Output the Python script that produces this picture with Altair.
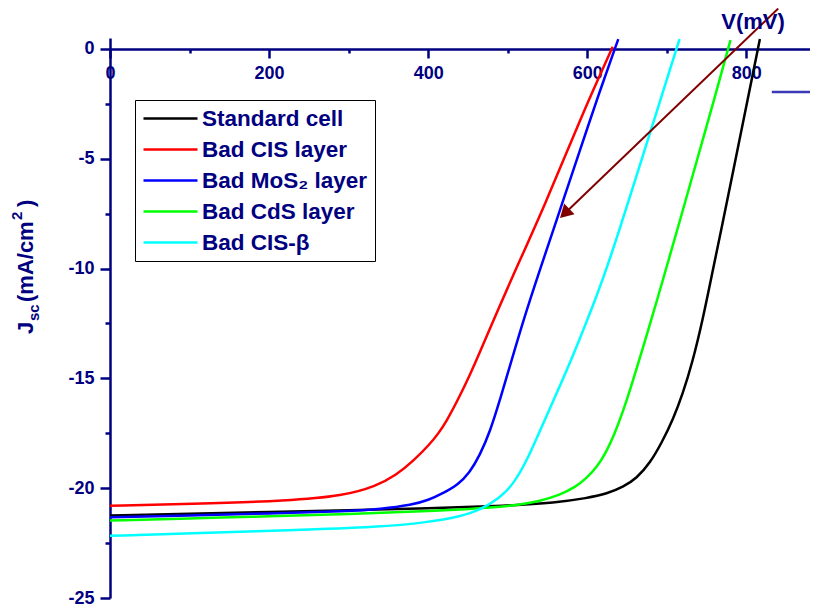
import altair as alt
import pandas as pd

NAVY = "#000080"
FONT = "Liberation Sans"

series_names = ["Standard cell", "Bad CIS layer", "Bad MoS₂ layer", "Bad CdS layer", "Bad CIS-β"]
series_colors = ["#000000", "#FF0000", "#0000FF", "#00FF00", "#00FFFF"]

# Standard cell
std_v = [0, 100, 200, 300, 400, 500, 560, 600, 625, 645, 662, 679, 694, 708, 720, 732, 745, 756, 770, 784, 800, 817]
std_j = [-21.24, -21.16, -21.08, -21.0, -20.92, -20.8, -20.66, -20.45, -20.25, -19.95, -19.55, -18.85, -17.9, -16.85,
         -15.7, -14.3, -12.35, -10.4, -7.95, -5.45, -2.6, 0.45]
# Bad CIS layer
cis_v = [0, 100, 226, 293, 335, 360, 381, 402, 413, 423, 437, 452, 465, 478, 503, 549, 591, 632]
cis_j = [-20.8, -20.72, -20.57, -20.35, -19.9, -19.4, -18.77, -18.0, -17.5, -16.95, -16.0, -14.88, -13.8, -12.7,
         -10.6, -6.93, -3.19, 0.1]
# Bad MoS2 layer
mos_v = [0, 100, 200, 300, 340, 380, 400, 420, 437, 452, 465, 478, 490, 499, 520, 540, 566, 591, 612, 639]
mos_j = [-21.32, -21.24, -21.15, -21.05, -20.95, -20.75, -20.55, -20.2, -19.85, -19.3, -18.5, -17.4, -16.0, -14.9,
         -12.3, -10.1, -7.3, -4.6, -2.3, 0.45]
# Bad CdS layer
cds_v = [0, 100, 200, 300, 400, 500, 540, 566, 585, 599, 612, 624, 634, 643, 654, 665, 675, 686, 696, 717, 738, 760, 780]
cds_j = [-21.47, -21.38, -21.28, -21.18, -21.05, -20.85, -20.6, -20.3, -19.95, -19.55, -19.05, -18.35, -17.55, -16.7,
         -15.5, -14.2, -13.0, -11.65, -10.4, -7.75, -5.05, -2.25, 0.4]
# Bad CIS-beta
beta_v = [0, 100, 226, 339, 400, 440, 465, 490, 507, 524, 540, 557, 574, 590, 607, 620, 640, 666, 690, 716]
beta_j = [-22.17, -22.06, -21.92, -21.77, -21.55, -21.3, -21.0, -20.45, -19.82, -18.75, -17.42, -16.05, -14.65,
          -13.25, -11.7, -10.45, -8.3, -5.3, -2.55, 0.45]

x_ticks = [0, 200, 400, 600, 800]
x_minor = [100, 300, 500, 700]
y_ticks = [0, -5, -10, -15, -20, -25]
y_minor = [-2.5, -7.5, -12.5, -17.5, -22.5]

arrow_v = [840, 571.6]
arrow_j = [1.84, -7.49]
arrow_head_v = [571.6]
arrow_head_j = [-7.49]

segment_v = [832]
segment_v2 = [900]
segment_j = [-1.96]

rows = []
for name, vs, js in zip(series_names, [std_v, cis_v, mos_v, cds_v, beta_v], [std_j, cis_j, mos_j, cds_j, beta_j]):
    for v, j in zip(vs, js):
        rows.append({"series": name, "V": v, "J": j})
df = pd.DataFrame(rows)

W, H = 700, 560
X_MAX = 880
Y_MIN, Y_MAX = -25, 0.5
y0_px = H * (Y_MAX - 0) / (Y_MAX - Y_MIN)
X_AXIS_OFFSET = -(H - y0_px)

x_scale = alt.Scale(domain=[0, X_MAX], nice=False, zero=False)
y_scale = alt.Scale(domain=[Y_MIN, Y_MAX], nice=False, zero=False)

legend = alt.Legend(
    orient="none", legendX=25, legendY=62, title=None,
    symbolType="M-2.7,0H2.7", symbolSize=400, symbolStrokeWidth=2.5, symbolOffset=17,
    labelOffset=20, labelFont=FONT, labelFontSize=22.5, labelFontWeight="bold", labelColor=NAVY,
    labelLimit=0, strokeColor="black", fillColor="white", padding=7, rowPadding=8,
)

lines = alt.Chart(df).mark_line(strokeWidth=2.5, interpolate="basis").encode(
    x=alt.X("V:Q", scale=x_scale,
            axis=alt.Axis(values=x_ticks, orient="bottom", offset=X_AXIS_OFFSET, tickSize=9, labelPadding=7,
                          title=None, labelFlush=False, labelOverlap=False, grid=False)),
    y=alt.Y("J:Q", scale=y_scale,
            axis=alt.Axis(values=y_ticks, orient="left", tickSize=10, labelPadding=6, title=None,
                          labelExpr="'' + datum.value", labelFlush=False, labelOverlap=False, grid=False)),
    color=alt.Color("series:N", scale=alt.Scale(domain=series_names, range=series_colors), legend=legend),
)

arrow = alt.Chart(pd.DataFrame({"V": arrow_v, "J": arrow_j})).mark_line(color="#800000", strokeWidth=2).encode(
    x=alt.X("V:Q", scale=x_scale,
            axis=alt.Axis(values=x_minor, orient="bottom", offset=X_AXIS_OFFSET, tickSize=4, labels=False,
                          domain=False, title=None, grid=False)),
    y=alt.Y("J:Q", scale=y_scale,
            axis=alt.Axis(values=y_minor, orient="left", tickSize=5, labels=False, domain=False, title=None,
                          grid=False)),
)

head = alt.Chart(pd.DataFrame({"V": arrow_head_v, "J": arrow_head_j})).mark_point(
    shape="M0,-1L1.15,1L-1.15,1Z", size=169, filled=True, color="#800000", opacity=1, angle=226, strokeWidth=0
).encode(x=alt.X("V:Q", axis=None), y=alt.Y("J:Q", axis=None))

seg = alt.Chart(pd.DataFrame({"V": segment_v, "V2": segment_v2, "J": segment_j})).mark_rule(
    color="#3a3ab8", strokeWidth=2.5
).encode(x=alt.X("V:Q", axis=None), x2="V2:Q", y=alt.Y("J:Q", axis=None))


def label(text, x, y, size, angle=0, align="left"):
    return alt.Chart(pd.DataFrame({"t": [text]})).mark_text(
        font=FONT, fontSize=size, fontWeight="bold", color=NAVY, angle=angle, align=align, baseline="alphabetic"
    ).encode(text="t:N", x=alt.value(x), y=alt.value(y))


texts = [
    label("V(mV)", 643, -9, 22, align="center"),
    label("J", -77, 296, 22, angle=270),
    label("sc", -71, 283, 15, angle=270),
    label("(mA/cm", -77, 264, 22, angle=270),
    label("2", -88, 182, 15, angle=270),
    label(")", -77, 169, 22, angle=270),
]

chart = alt.layer(lines, arrow, head, seg, *texts).resolve_axis(
    x="independent", y="independent"
).properties(
    width=W, height=H, autosize=alt.AutoSizeParams(type="none"),
    padding={"left": 102, "top": 30, "right": 0, "bottom": 8},
).configure_view(stroke=None).configure_axis(
    domainColor=NAVY, domainWidth=2.5, tickColor=NAVY, tickWidth=2.5, labelColor=NAVY,
    labelFont=FONT, labelFontSize=18, labelFontWeight="bold",
)

chart.save("out.html", embed_options={"renderer": "svg", "actions": False})
